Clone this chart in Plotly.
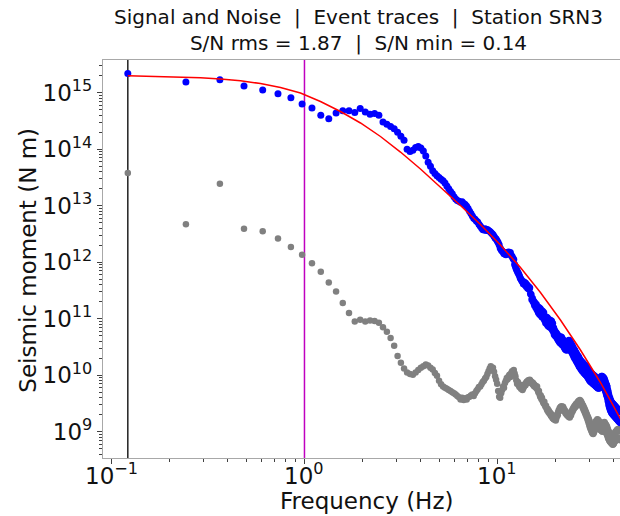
import numpy as np
import plotly.graph_objects as go

# Spectral sample spacing (Hz); spectra start at the first non-zero bin
DF = 0.1215

# log10 of seismic moment (N m) for the event (signal) spectrum, one value per bin
signal_log10 = [
    15.34, 15.19, 15.23, 15.12, 15.05, 14.98, 14.91, 14.80, 14.73, 14.60,
    14.54, 14.64, 14.68, 14.68, 14.65, 14.72, 14.66, 14.62, 14.63, 14.60,
    14.48, 14.44, 14.40, 14.36, 14.30, 14.23, 14.16, 14.00, 13.96, 13.98,
    14.03, 14.05, 14.02, 13.97, 13.88, 13.77, 13.70, 13.62, 13.57, 13.53,
    13.50, 13.47, 13.44, 13.40, 13.35, 13.30, 13.25, 13.21, 13.16, 13.12,
    13.09, 13.08, 13.06, 13.07, 13.04, 13.02, 12.99, 12.95, 12.90, 12.86,
    12.82, 12.78, 12.76, 12.73, 12.71, 12.67, 12.64, 12.61, 12.58, 12.57,
    12.59, 12.56, 12.58, 12.56, 12.55, 12.53, 12.51, 12.49, 12.46, 12.43,
    12.41, 12.38, 12.35, 12.31, 12.25, 12.22, 12.20, 12.18, 12.15, 12.16,
    12.13, 12.17, 12.15, 12.18, 12.16, 12.17, 12.12, 12.10, 12.07, 12.05,
    11.96, 11.92, 11.88, 11.85, 11.82, 11.79, 11.76, 11.72, 11.70, 11.67,
    11.66, 11.62, 11.65, 11.60, 11.63, 11.57, 11.60, 11.54, 11.57, 11.52,
    11.55, 11.44, 11.43, 11.34, 11.36, 11.30, 11.31, 11.24, 11.28, 11.20,
    11.25, 11.16, 11.21, 11.11, 11.20, 11.08, 11.18, 11.06, 11.15, 11.03,
    11.13, 11.02, 11.11, 10.98, 11.04, 10.93, 11.03, 10.91, 11.02, 10.88,
    10.99, 10.86, 10.98, 10.85, 10.97, 10.84, 10.96, 10.81, 10.92, 10.78,
    10.84, 10.72, 10.79, 10.70, 10.76, 10.68, 10.74, 10.65, 10.71, 10.62,
    10.69, 10.59, 10.67, 10.57, 10.68, 10.56, 10.67, 10.54, 10.64, 10.53,
    10.61, 10.50, 10.59, 10.47, 10.60, 10.45, 10.58, 10.44, 10.57, 10.45,
    10.60, 10.47, 10.62, 10.48, 10.61, 10.46, 10.58, 10.43, 10.55, 10.40,
    10.52, 10.37, 10.49, 10.34, 10.46, 10.31, 10.44, 10.29, 10.41, 10.26,
    10.39, 10.24, 10.36, 10.21, 10.34, 10.19, 10.32, 10.16, 10.29, 10.14,
    10.27, 10.12, 10.25, 10.10, 10.24, 10.08, 10.22, 10.07, 10.21, 10.05,
    10.19, 10.04, 10.18, 10.02, 10.17, 10.01, 10.16, 10.00, 10.14, 9.98,
    10.12, 9.96, 10.10, 9.94, 10.08, 9.92, 10.06, 9.90, 10.04, 9.89,
    10.04, 9.88, 10.03, 9.87, 10.02, 9.86, 10.01, 9.85, 10.00, 9.84,
    9.99, 9.83, 9.98, 9.82, 9.97, 9.81, 9.96, 9.80, 9.95, 9.79,
    9.94, 9.78, 9.93, 9.77, 9.92, 9.77, 9.92, 9.78, 9.94, 9.79,
    9.95, 9.80, 9.97, 9.81, 9.98, 9.82, 9.98, 9.82, 9.97, 9.81,
    9.96, 9.80, 9.95, 9.78, 9.93, 9.76, 9.90, 9.73, 9.87, 9.70,
    9.84, 9.66, 9.82, 9.63, 9.79, 9.59, 9.74, 9.54, 9.70, 9.49,
    9.65, 9.45, 9.61, 9.42, 9.59, 9.39, 9.56, 9.37, 9.54, 9.35,
    9.52, 9.33, 9.51, 9.32, 9.50, 9.31, 9.49, 9.30, 9.48, 9.29,
    9.47, 9.28, 9.46, 9.27, 9.45, 9.26, 9.44, 9.25, 9.43, 9.24,
    9.42, 9.23, 9.41, 9.22, 9.40, 9.21, 9.39, 9.20, 9.38, 9.19,
    9.37, 9.18, 9.36, 9.17, 9.35, 9.16,
]

# log10 of seismic moment (N m) for the pre-event noise window, one value per bin
noise_log10 = [
    13.58, 12.67, 13.39, 12.59, 12.55, 12.42, 12.27, 12.13, 11.98, 11.83,
    11.64, 11.48, 11.28, 11.10, 10.95, 10.98, 10.95, 10.97, 10.96, 10.93,
    10.85, 10.77, 10.66, 10.52, 10.34, 10.22, 10.12, 10.05, 10.02, 10.01,
    10.05, 10.09, 10.13, 10.16, 10.19, 10.17, 10.13, 10.10, 10.04, 9.99,
    9.90, 9.84, 9.80, 9.78, 9.76, 9.74, 9.72, 9.70, 9.68, 9.66,
    9.63, 9.61, 9.57, 9.60, 9.56, 9.59, 9.57, 9.61, 9.62, 9.64,
    9.66, 9.63, 9.68, 9.72, 9.75, 9.79, 9.80, 9.84, 9.88, 9.90,
    9.94, 9.97, 10.02, 10.07, 10.12, 10.16, 10.11, 10.13, 10.06, 9.98,
    9.92, 9.85, 9.72, 9.62, 9.60, 9.68, 9.74, 9.80, 9.78, 9.86,
    9.90, 9.95, 9.93, 9.98, 10.01, 9.97, 10.04, 10.07, 10.05, 10.09,
    10.03, 9.98, 9.91, 9.85, 9.88, 9.82, 9.79, 9.83, 9.76, 9.78,
    9.74, 9.77, 9.80, 9.84, 9.82, 9.87, 9.89, 9.86, 9.91, 9.88,
    9.92, 9.90, 9.86, 9.88, 9.84, 9.86, 9.81, 9.83, 9.79, 9.81,
    9.77, 9.80, 9.74, 9.70, 9.72, 9.66, 9.62, 9.64, 9.58, 9.60,
    9.55, 9.52, 9.50, 9.53, 9.47, 9.44, 9.46, 9.41, 9.38, 9.40,
    9.35, 9.37, 9.32, 9.34, 9.30, 9.28, 9.31, 9.26, 9.24, 9.27,
    9.22, 9.25, 9.21, 9.24, 9.20, 9.23, 9.27, 9.31, 9.29, 9.35,
    9.38, 9.36, 9.42, 9.40, 9.44, 9.41, 9.45, 9.43, 9.40, 9.44,
    9.42, 9.39, 9.36, 9.38, 9.33, 9.35, 9.31, 9.34, 9.29, 9.32,
    9.28, 9.30, 9.26, 9.29, 9.25, 9.28, 9.31, 9.29, 9.34, 9.37,
    9.35, 9.40, 9.38, 9.43, 9.41, 9.45, 9.43, 9.47, 9.44, 9.49,
    9.46, 9.50, 9.48, 9.52, 9.49, 9.54, 9.51, 9.55, 9.52, 9.56,
    9.53, 9.50, 9.54, 9.48, 9.51, 9.45, 9.48, 9.42, 9.46, 9.39,
    9.43, 9.36, 9.40, 9.33, 9.37, 9.30, 9.34, 9.27, 9.31, 9.24,
    9.28, 9.20, 9.25, 9.16, 9.22, 9.12, 9.19, 9.08, 9.15, 9.05,
    9.12, 9.02, 9.09, 8.99, 9.07, 8.97, 9.06, 8.96, 9.08, 8.98,
    9.11, 9.01, 9.14, 9.04, 9.17, 9.06, 9.19, 9.08, 9.20, 9.09,
    9.22, 9.10, 9.21, 9.08, 9.20, 9.07, 9.18, 9.05, 9.17, 9.04,
    9.16, 9.03, 9.15, 9.02, 9.14, 9.01, 9.13, 9.00, 9.14, 9.02,
    9.15, 9.03, 9.16, 9.04, 9.17, 9.03, 9.15, 9.01, 9.13, 8.99,
    9.12, 8.97, 9.10, 8.95, 9.08, 8.92, 9.05, 8.89, 9.02, 8.87,
    9.00, 8.85, 8.98, 8.83, 8.96, 8.82, 8.95, 8.81, 8.94, 8.80,
    8.93, 8.79, 8.92, 8.78, 8.91, 8.77, 8.92, 8.78, 8.93, 8.79,
    8.95, 8.81, 8.97, 8.83, 8.99, 8.84, 9.00, 8.85, 9.01, 8.86,
    9.02, 8.87, 9.03, 8.88, 9.04, 8.89, 9.05, 8.90, 9.04, 8.88,
    9.03, 8.87, 9.02, 8.86, 9.01, 8.85,
]

# Fitted source-spectrum model (frequency in Hz, log10 moment)
model_freq = [0.1215, 0.1794, 0.2891, 0.3671, 0.4661, 0.5916, 0.7510, 0.9534,
              1.2103, 1.5366, 1.9508, 2.4763, 3.1437, 3.9905, 5.0664, 6.4316,
              8.1643, 10.364, 13.158, 16.703, 21.205, 26.92, 34.18, 43.39]
model_log10 = [15.301, 15.290, 15.264, 15.242, 15.211, 15.163, 15.092, 14.995,
               14.844, 14.667, 14.464, 14.225, 13.950, 13.650, 13.331, 13.004,
               12.667, 12.304, 11.906, 11.464, 10.977, 10.446, 9.871, 9.225]

# Reference frequencies marked with vertical lines
f_low_hz = 0.1215
f_mark_hz = 1.0

title_lines = ["Signal and Noise  |  Event traces  |  Station SRN3",
               "S/N rms = 1.87  |  S/N min = 0.14"]
x_label = "Frequency (Hz)"
y_label = "Seismic moment (N m)"

x_tick_exp = [-1, 0, 1]
x_tick_text = ["10<sup>\u22121</sup>", "10<sup>0</sup>", "10<sup>1</sup>"]
y_tick_exp = [9, 10, 11, 12, 13, 14, 15]
y_tick_text = ["10<sup>%d</sup>" % e for e in y_tick_exp]

freq_sig = DF * np.arange(1, len(signal_log10) + 1)
freq_noise = DF * np.arange(1, len(noise_log10) + 1)

FONT = "DejaVu Sans"
INK = "#111111"
SPINE = "#a8a8a8"
TICK = "#404040"

X_RANGE = [-1.044, 1.635]
Y_RANGE = [8.5345, 15.579]

fig = go.Figure()

fig.add_trace(go.Scatter(
    x=freq_noise, y=10 ** np.array(noise_log10), mode="markers",
    marker=dict(color="#808080", size=6.5, line=dict(width=0)),
    name="Noise", showlegend=False, hoverinfo="skip"))

fig.add_trace(go.Scatter(
    x=freq_sig, y=10 ** np.array(signal_log10), mode="markers",
    marker=dict(color="#0000ff", size=7, line=dict(width=0)),
    name="Signal", showlegend=False, hoverinfo="skip"))

fig.add_trace(go.Scatter(
    x=model_freq, y=10 ** np.array(model_log10), mode="lines",
    line=dict(color="#ff0000", width=1.5),
    name="Model", showlegend=False, hoverinfo="skip"))

for fx, col in [(f_low_hz, "#202020"), (f_mark_hz, "#c000c0")]:
    fig.add_shape(type="line", xref="x", yref="paper", x0=fx, x1=fx, y0=0, y1=1,
                  line=dict(color=col, width=1.5), layer="below")

minor_x = [m * 10.0 ** d for d in range(-2, 2) for m in range(2, 10)]
minor_y = [m * 10.0 ** d for d in range(8, 16) for m in range(2, 10)]

fig.update_xaxes(
    type="log", range=X_RANGE,
    tickmode="array", tickvals=[10.0 ** e for e in x_tick_exp], showticklabels=False,
    ticks="outside", ticklen=5, tickwidth=1, tickcolor=TICK,
    minor=dict(tickmode="array", tickvals=minor_x, ticks="outside",
               ticklen=3, tickwidth=1, tickcolor=TICK, showgrid=False),
    showline=True, linecolor=SPINE, linewidth=1.2, mirror=True,
    showgrid=False, zeroline=False,
)
fig.update_yaxes(
    type="log", range=Y_RANGE,
    tickmode="array", tickvals=[10.0 ** e for e in y_tick_exp], ticktext=y_tick_text,
    ticks="outside", ticklen=5, tickwidth=1, tickcolor=TICK,
    minor=dict(tickmode="array", tickvals=minor_y, ticks="outside",
               ticklen=3, tickwidth=1, tickcolor=TICK, showgrid=False),
    showline=True, linecolor=SPINE, linewidth=1.2,
    showgrid=False, zeroline=False,
    tickfont=dict(family=FONT, size=23, color=INK),
)

# x tick labels (log axis: annotation x is given in decades)
for e, txt in zip(x_tick_exp, x_tick_text):
    fig.add_annotation(x=e, xref="x", y=-0.040, yref="paper", text=txt,
                       showarrow=False, xanchor="center", yanchor="middle",
                       font=dict(family=FONT, size=23, color=INK))

# axis titles
fig.add_annotation(x=0.5097, xref="paper", y=-0.108, yref="paper", text=x_label,
                   showarrow=False, xanchor="center", yanchor="middle",
                   font=dict(family=FONT, size=23, color=INK))
fig.add_annotation(x=-0.145, xref="paper", y=0.496, yref="paper", text=y_label,
                   textangle=-90, showarrow=False, xanchor="center", yanchor="middle",
                   font=dict(family=FONT, size=23, color=INK))

# two-line title above the axes
fig.add_annotation(x=0.495, xref="paper", y=1.0766, yref="paper",
                   text="<br>".join(title_lines), showarrow=False,
                   xanchor="center", yanchor="middle", align="center",
                   font=dict(family=FONT, size=20, color=INK))

fig.update_layout(
    width=620, height=516,
    margin=dict(l=103, r=0, t=60, b=58),
    paper_bgcolor="white", plot_bgcolor="white",
    font=dict(family=FONT, color=INK),
    showlegend=False,
)

fig.write_html("out.html")
